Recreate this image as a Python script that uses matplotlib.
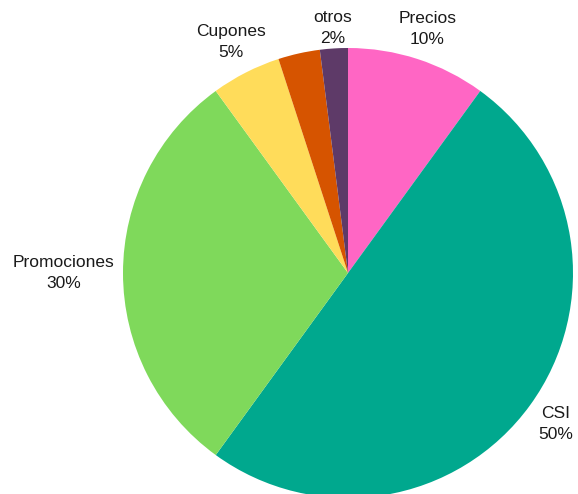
import numpy as np
import matplotlib
matplotlib.use('Agg')
import matplotlib.pyplot as plt

# slice data, clockwise from the top
labels = ['Precios', 'CSI', 'Promociones', 'Cupones', '', 'otros']
values = [10, 50, 30, 5, 3, 2]
colors = ['#FF66C4', '#00A88E', '#7FD95B', '#FFDC5A', '#D65400', '#5E3A68']

plt.rcParams['font.family'] = ['Liberation Sans', 'DejaVu Sans']

fig = plt.figure(figsize=(5.78, 4.94), dpi=100)
# pie centre at (348, 273) px, radius 225 px
ax = fig.add_axes([123 / 578, (221 - 225) / 494, 450 / 578, 450 / 494])
wedges, _ = ax.pie(values, colors=colors, startangle=90, counterclock=False,
                   radius=1.0, wedgeprops=dict(linewidth=0))

dist = {'Promociones': 1.265, 'otros': 1.09, 'Cupones': 1.15}
for w, lab, v in zip(wedges, labels, values):
    if not lab:
        continue
    mid = np.deg2rad((w.theta1 + w.theta2) / 2)
    r = dist.get(lab, 1.14)
    ax.text(r * np.cos(mid), r * np.sin(mid), '{}\n{}%'.format(lab, v),
            ha='center', va='center', fontsize=12.5, linespacing=1.5,
            color='#1a1a1a', clip_on=False)

ax.set_xlim(-1, 1)
ax.set_ylim(-1, 1)
ax.set_aspect('equal')
ax.axis('off')
fig.savefig('out.png', dpi=100)
